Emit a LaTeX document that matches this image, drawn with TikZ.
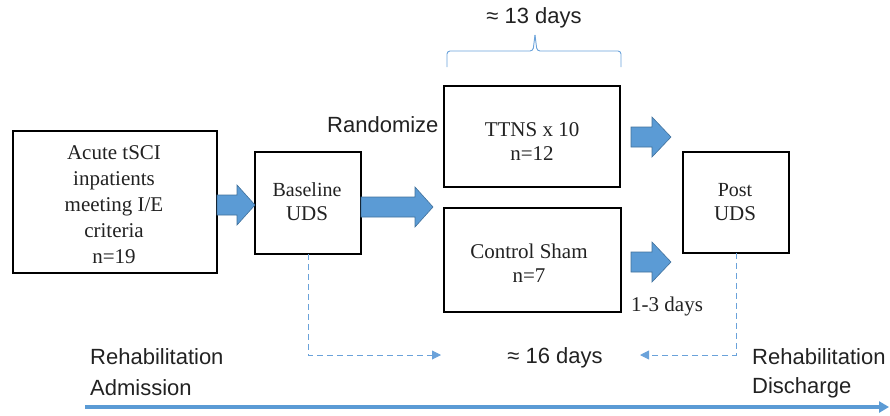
\documentclass[tikz,border=0pt]{standalone}
\usepackage{fontspec}
\setmainfont{Liberation Serif}
\setsansfont{Liberation Sans}
\usetikzlibrary{arrows.meta,decorations.pathreplacing,calc}
\definecolor{arrfill}{HTML}{5B9BD5}
\definecolor{arrline}{HTML}{41719C}
\definecolor{lblue}{HTML}{6AA2DA}
\definecolor{txt}{HTML}{222222}
\newcommand\blkarrow[4]{% x1, x2, y, head start
  \filldraw[fill=arrfill,draw=arrline,line width=0.6pt]
    (#1,#3-10) -- (#4,#3-10) -- (#4,#3-20) -- (#2,#3) -- (#4,#3+20) -- (#4,#3+10) -- (#1,#3+10) -- cycle;}
\begin{document}
\begin{tikzpicture}[x=1pt,y=-1pt,
  box/.style={draw=black,line width=1.4pt,fill=white},
  sans/.style={font=\sffamily\fontsize{22}{26}\selectfont,text=txt,inner sep=0pt},
  serif/.style={font=\fontsize{21}{26}\selectfont,text=txt,align=center,inner sep=0pt},
  dashedarr/.style={draw=lblue,line width=0.9pt,dash pattern=on 6pt off 4pt,-{Triangle[length=9pt,width=9pt]}}]
\useasboundingbox (0,0) rectangle (890,415);
% boxes
\draw[box] (13,131) rectangle (217,273);
\node[serif] (acute) at (114,205) {Acute tSCI\\inpatients\\meeting I/E\\criteria\\n=19};
\draw[box] (255,152) rectangle (361,254);
\node[serif] (base) at (307,202) {{\fontsize{20}{22}\selectfont Baseline}\\[-2pt]{\fontsize{21}{24}\selectfont UDS}};
\draw[box] (444,86) rectangle (620,187);
\node[serif] (ttns) at (532,142) {TTNS x 10\\[-2pt]n=12};
\draw[box] (444,208) rectangle (621,312);
\node[serif] (ctrl) at (529,263) {Control Sham\\[-2pt]n=7};
\draw[box] (683,152) rectangle (789,253);
\node[serif] (post) at (735,202) {{\fontsize{20}{22}\selectfont Post}\\[-2pt]{\fontsize{21}{24}\selectfont UDS}};
% block arrows
\blkarrow{217}{255}{205}{237}
\blkarrow{361}{433}{207}{415}
\blkarrow{631}{671}{137}{652}
\blkarrow{631}{671}{262}{652}
% labels
\node[sans,anchor=west] (rand) at (327,125) {Randomize};
\node[sans] (d13) at (534,18) {≈ 13 days};
\node[sans] (d16) at (555,358) {≈ 16 days};
\node[font=\fontsize{21}{24}\selectfont,text=txt,anchor=west,inner sep=0pt] (d13b) at (631,306) {1-3 days};
\node[sans,anchor=west] (ra1) at (90,357) {Rehabilitation};
\node[sans,anchor=west] (ra2) at (90,388) {Admission};
\node[sans,anchor=west] (rd1) at (752,357) {Rehabilitation};
\node[sans,anchor=west] (rd2) at (752,388) {Discharge};
% brace
\draw[lblue,line width=0.9pt,rounded corners=3pt] (447,67) -- (447,51) -- (533,51) -- (535,35);
\draw[lblue,line width=0.9pt,rounded corners=3pt] (621,67) -- (621,51) -- (537,51) -- (535,35);
% dashed arrows
\coordinate (bs) at (308,254);
\coordinate (ps) at (736,253);
\draw[dashedarr] (bs) |- (441,355);
\draw[dashedarr] (ps) |- (640,355);
% timeline
\draw[arrfill,line width=3.5pt,-{Triangle[length=10pt,width=11pt]}] (85,407) -- (889,407);
\end{tikzpicture}
\end{document}
